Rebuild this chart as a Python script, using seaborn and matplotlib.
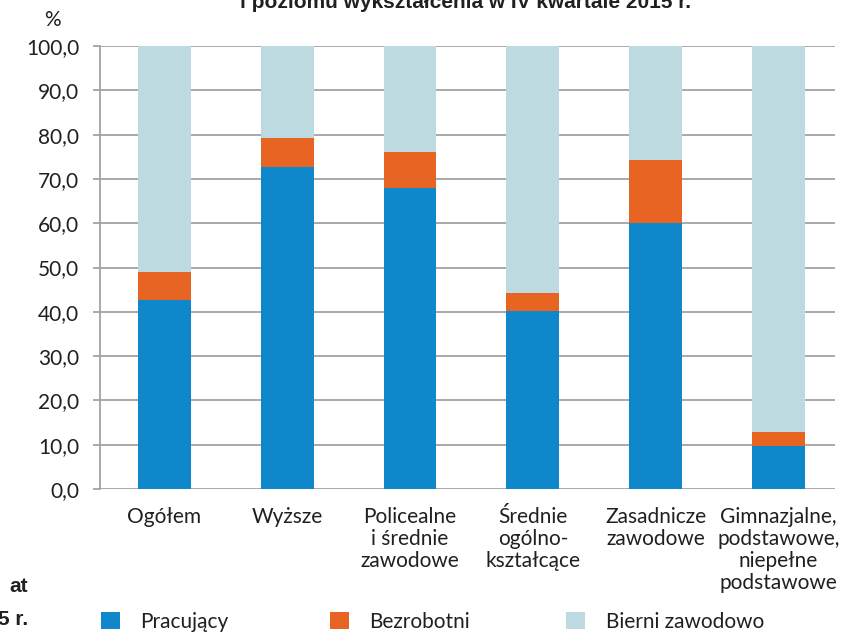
import matplotlib
matplotlib.use("Agg")
import matplotlib.pyplot as plt
import seaborn as sns
import pandas as pd
from matplotlib.patches import Patch

categories = ["Ogółem", "Wyższe", "Policealne\ni średnie\nzawodowe",
              "Średnie\nogólno-\nkształcące", "Zasadnicze\nzawodowe",
              "Gimnazjalne,\npodstawowe,\nniepełne\npodstawowe"]
pracujacy = [42.7, 72.7, 68.0, 40.2, 60.0, 9.8]
bezrobotni = [6.3, 6.5, 8.1, 4.0, 14.3, 3.1]
bierni = [51.0, 20.8, 23.9, 55.8, 25.7, 87.1]
series_names = ["Pracujący", "Bezrobotni", "Bierni zawodowo"]
yticks = [0, 10, 20, 30, 40, 50, 60, 70, 80, 90, 100]

colors = ["#0E88CB", "#E86423", "#BDDAE0"]
grid_c = "#A3A3A3"
text_c = "#231F20"

sns.set_theme(style="white")
plt.rcParams["font.family"] = ["Lato", "DejaVu Sans"]
FS = 15

df = pd.DataFrame({"cat": categories, "P": pracujacy, "B": bezrobotni, "Bi": bierni})
df["l1"] = df["P"]
df["l2"] = df["P"] + df["B"]
df["l3"] = df["P"] + df["B"] + df["Bi"]

fig = plt.figure(figsize=(8.43, 6.33), dpi=100)
W, H = 843, 633
ax = fig.add_axes([100 / W, 1 - 489 / H, 735 / W, 443 / H])

for col, c in [("l3", colors[2]), ("l2", colors[1]), ("l1", colors[0])]:
    sns.barplot(data=df, x="cat", y=col, color=c, width=0.43, saturation=1,
                ax=ax, zorder=3, linewidth=0)

ax.set_ylim(0, 100)
ax.set_xlim(-0.525, 5.46)
ax.set_yticks(yticks)
ax.set_yticklabels([f"{v:.1f}".replace(".", ",") for v in yticks])
ax.set_xlabel("")
ax.set_ylabel("")
ax.grid(axis="y", color=grid_c, linewidth=1.3, zorder=0)
ax.grid(axis="x", visible=False)
ax.set_axisbelow(True)
for s in ["top", "right", "bottom"]:
    ax.spines[s].set_visible(False)
ax.spines["left"].set_color(grid_c)
ax.spines["left"].set_linewidth(1.3)
ax.tick_params(axis="y", length=5, width=1.3, color=grid_c, pad=10,
               labelsize=FS, labelcolor=text_c, left=True)
ax.tick_params(axis="x", length=0, pad=13, labelsize=FS, labelcolor=text_c)
for lab in ax.get_xticklabels():
    lab.set_linespacing(1.12)
    lab.set_ha("center")

fig.text(52 / W, 1 - 20 / H, "%", ha="center", va="center", fontsize=FS, color=text_c)

# cut-off title and side text fragments (cut in the reference as well)
cond = ["Liberation Sans Narrow", "Liberation Sans", "DejaVu Sans"]
fig.text(465 / W, 1 - 8 / H, "i poziomu wykształcenia w IV kwartale 2015 r.",
         ha="center", va="baseline", fontsize=15, fontweight="bold", color=text_c,
         family=cond)
fig.text(28 / W, 1 - 592 / H, "at", ha="right", va="baseline", fontsize=15,
         fontweight="bold", color=text_c, family=cond)
fig.text(28 / W, 1 - 625 / H, "5 r.", ha="right", va="baseline", fontsize=15,
         fontweight="bold", color=text_c, family=cond)

# legend
leg_x = [101, 330, 566]
for name, c, x in zip(series_names, colors, leg_x):
    fig.legend([Patch(facecolor=c, edgecolor="none")], [name], loc="center left",
               bbox_to_anchor=(x / W, 1 - 622 / H), frameon=False, fontsize=FS,
               handlelength=0.9, handleheight=0.9, handletextpad=1.0,
               borderpad=0, borderaxespad=0, labelcolor=text_c)

fig.savefig("out.png", dpi=100)
